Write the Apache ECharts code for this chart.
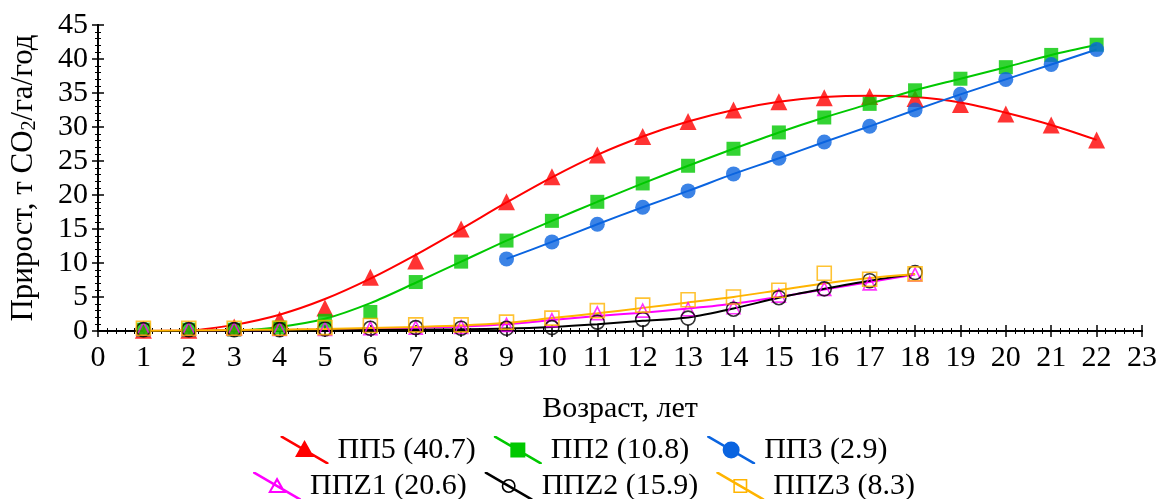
<!DOCTYPE html>
<html>
<head>
<meta charset="utf-8">
<script src="https://cdn.jsdelivr.net/npm/echarts@6/dist/echarts.min.js"></script>
<style>
  html, body { margin: 0; padding: 0; background: #fff; }
  #chart { width: 1168px; height: 499px; }
</style>
</head>
<body>
<div id="chart"></div>
<script>
// возраст, лет
var ages = [1, 2, 3, 4, 5, 6, 7, 8, 9, 10, 11, 12, 13, 14, 15, 16, 17, 18, 19, 20, 21, 22];

// точки (измерения)
var pp5 = [0.1, 0.1, 0.6, 1.7, 3.4, 7.9, 10.3, 15.0, 19.0, 22.7, 25.9, 28.6, 30.8, 32.5, 33.7, 34.3, 34.5, 34.2, 33.3, 31.9, 30.3, 28.1];
var pp2 = [0.2, 0.2, 0.2, 0.5, 1.5, 2.8, 7.2, 10.2, 13.3, 16.2, 19.0, 21.7, 24.3, 26.8, 29.2, 31.4, 33.4, 35.4, 37.1, 38.8, 40.6, 42.1];
var pp3 = [null, null, null, null, null, null, null, null, 10.6, 13.1, 15.7, 18.2, 20.6, 23.1, 25.4, 27.8, 30.1, 32.5, 34.8, 37.0, 39.2, 41.4];
var ppz1 = [0.3, 0.3, 0.3, 0.3, 0.3, 0.4, 0.5, 0.6, 0.9, 1.6, 2.6, 3.0, 3.2, 3.5, 5.2, 6.2, 7.0, 8.3];
var ppz2 = [0.2, 0.2, 0.2, 0.2, 0.3, 0.4, 0.5, 0.4, 0.4, 0.5, 1.3, 1.7, 1.9, 3.2, 4.9, 6.2, 7.4, 8.6];
var ppz3 = [0.4, 0.4, 0.4, 0.4, 0.5, 0.8, 0.9, 0.9, 1.3, 1.9, 3.0, 3.8, 4.6, 5.0, 6.0, 8.5, 7.6, 8.4];

// аппроксимирующие кривые
var pp5Fit = [null, 0.0, 0.9, 2.4, 4.7, 7.7, 11.2, 15.0, 18.9, 22.6, 25.9, 28.6, 30.8, 32.5, 33.7, 34.4, 34.6, 34.4, 33.6, 32.1, 30.3, 28.1];
var pp2Fit = [null, null, 0.0, 0.6, 1.8, 4.1, 7.1, 10.2, 13.3, 16.2, 19.0, 21.7, 24.3, 26.8, 29.2, 31.4, 33.4, 35.4, 37.1, 38.8, 40.6, 42.1];
var pp3Fit = pp3;
var ppz1Fit = [0.0, 0.05, 0.1, 0.15, 0.2, 0.3, 0.45, 0.65, 1.0, 1.6, 2.2, 2.7, 3.3, 4.0, 5.0, 6.1, 7.2, 8.3];
var ppz2Fit = [0.0, 0.0, 0.05, 0.1, 0.1, 0.15, 0.2, 0.25, 0.35, 0.6, 1.0, 1.5, 2.0, 3.3, 4.9, 6.2, 7.4, 8.4];
var ppz3Fit = [0.05, 0.1, 0.15, 0.2, 0.3, 0.45, 0.6, 0.8, 1.2, 1.9, 2.6, 3.4, 4.2, 5.0, 6.0, 7.0, 7.8, 8.4];

var names = ['ПП5 (40.7)', 'ПП2 (10.8)', 'ПП3 (2.9)', 'ППZ1 (20.6)', 'ППZ2 (15.9)', 'ППZ3 (8.3)'];
var colors = ['#ff0000', '#00c800', '#0a64e0', '#ff00ff', '#000000', '#ffb400'];

var FONT = '"Liberation Serif", "Times New Roman", serif';

function pairs(vals) {
  var out = [];
  vals.forEach(function (v, i) {
    if (v !== null && v !== undefined) out.push([ages[i], v]);
  });
  return out;
}

// иконки легенды: диагональная линия + маркер
var strip = 'M0 0 L2.5 0 L48 26.5 L48 28 L45.5 28 L0 1.5 Z ';
var icons = [
  'path://' + strip + 'M24 4 L33.5 21 L14.5 21 Z',
  'path://' + strip + 'M16.5 6.5 L31.5 6.5 L31.5 21.5 L16.5 21.5 Z',
  'path://' + strip + 'M15.5 14 A8.5 8.5 0 1 1 32.5 14 A8.5 8.5 0 1 1 15.5 14 Z',
  'path://' + strip + 'M24 5 L33 21 L15 21 Z M24 9.5 L18.4 19 L29.6 19 Z',
  'path://' + strip + 'M17 14 A7 7 0 1 1 31 14 A7 7 0 1 1 17 14 Z M18.6 14 A5.4 5.4 0 1 0 29.4 14 A5.4 5.4 0 1 0 18.6 14 Z',
  'path://' + strip + 'M17 7 L31 7 L31 21 L17 21 Z M18.6 8.6 L18.6 19.4 L29.4 19.4 L29.4 8.6 Z'
];

function legendItem(i) {
  return { name: names[i], icon: icons[i], itemStyle: { color: colors[i], borderWidth: 0 } };
}

var points = [pp5, pp2, pp3, ppz1, ppz2, ppz3];
var fits = [pp5Fit, pp2Fit, pp3Fit, ppz1Fit, ppz2Fit, ppz3Fit];
var symbols = ['triangle', 'rect', 'circle', 'triangle', 'circle', 'rect'];
var sizes = [17, 14, 15, 13, 14, 14];
var hollow = [false, false, false, true, true, true];

var series = [];
[0, 1, 2, 3, 4, 5].forEach(function (i) {
  series.push({
    name: names[i],
    type: 'line',
    smooth: 0.3,
    showSymbol: false,
    data: pairs(fits[i]),
    lineStyle: { color: colors[i], width: 2 },
    itemStyle: { color: colors[i] },
    z: 2
  });
  series.push({
    name: names[i],
    type: 'scatter',
    symbol: symbols[i],
    symbolSize: sizes[i],
    data: pairs(points[i]),
    itemStyle: hollow[i]
      ? { color: 'rgba(0,0,0,0)', borderColor: colors[i], borderWidth: 1.6 }
      : { color: colors[i] },
    z: 3
  });
});

var chart = echarts.init(document.getElementById('chart'));

var tickCommon = {
  axisLine: { show: true, lineStyle: { color: '#000', width: 2 } },
  axisTick: { show: true, inside: true, length: 6, lineStyle: { color: '#000', width: 1.5 } },
  minorTick: { show: true, splitNumber: 5, length: 3, lineStyle: { color: '#000', width: 1 } },
  splitLine: { show: false }
};

var legendCommon = {
  left: 'center',
  itemWidth: 48, itemHeight: 28, itemGap: 18,
  textStyle: { fontFamily: FONT, fontSize: 30, color: '#000', padding: [0, 0, 0, 4] }
};

chart.setOption({
  animation: false,
  backgroundColor: '#fff',
  grid: { left: 98, right: 26, top: 25, bottom: 168 },
  legend: [
    Object.assign({ top: 430, data: [legendItem(0), legendItem(1), legendItem(2)] }, legendCommon),
    Object.assign({ top: 466, data: [legendItem(3), legendItem(4), legendItem(5)] }, legendCommon)
  ],
  xAxis: [
    Object.assign({
      type: 'value', min: 0, max: 23, interval: 1,
      name: 'Возраст, лет', nameLocation: 'middle', nameGap: 63,
      nameTextStyle: { fontFamily: FONT, fontSize: 30, color: '#000' },
      axisLabel: { fontFamily: FONT, fontSize: 30, color: '#000', margin: 12 }
    }, tickCommon),
    Object.assign({
      type: 'value', min: 0, max: 23, interval: 1, position: 'top',
      axisLabel: { show: false }
    }, tickCommon)
  ],
  yAxis: [
    Object.assign({
      type: 'value', min: 0, max: 45, interval: 5,
      name: 'Прирост, т CO{sub|2}/га/год', nameLocation: 'middle', nameGap: 58, nameRotate: 90,
      nameTextStyle: {
        fontFamily: FONT, fontSize: 31, color: '#000',
        rich: { sub: { fontFamily: FONT, fontSize: 20, color: '#000', verticalAlign: 'bottom', padding: [12, 0, 0, 0] } }
      },
      axisLabel: { fontFamily: FONT, fontSize: 30, color: '#000', margin: 10 }
    }, tickCommon),
    Object.assign({
      type: 'value', min: 0, max: 45, interval: 5, position: 'right',
      axisLabel: { show: false }
    }, tickCommon)
  ],
  series: series
});
</script>
</body>
</html>
